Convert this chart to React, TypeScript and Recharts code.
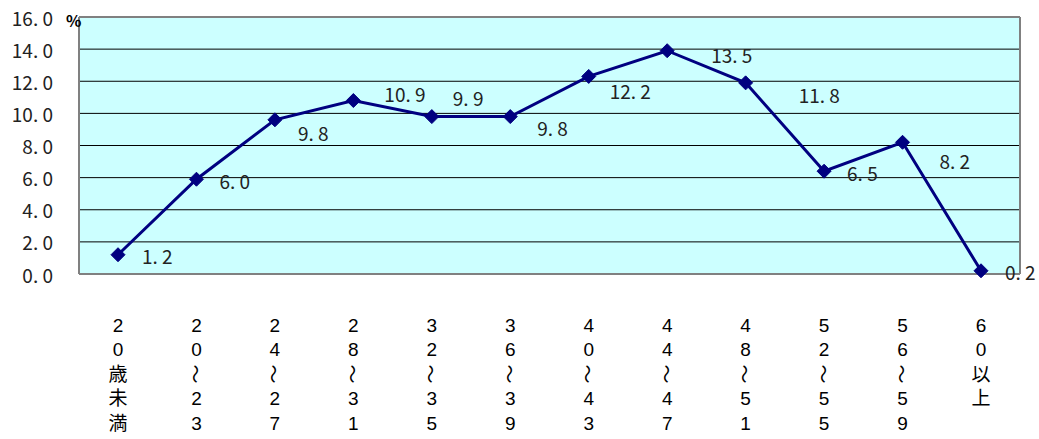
import React from "react";
import {
  LineChart,
  Line,
  XAxis,
  YAxis,
  CartesianGrid,
  ReferenceLine,
  LabelList,
} from "recharts";

const categories = [
  "20歳未満",
  "20～23",
  "24～27",
  "28～31",
  "32～35",
  "36～39",
  "40～43",
  "44～47",
  "48～51",
  "52～55",
  "56～59",
  "60以上",
];
const shares = [1.2, 5.9, 9.6, 10.8, 9.8, 9.8, 12.3, 13.9, 11.9, 6.4, 8.2, 0.2];
const shareLabels = ["1.2", "6.0", "9.8", "10.9", "9.9", "9.8", "12.2", "13.5", "11.8", "6.5", "8.2", "0.2"];
const yTicks = [0, 2, 4, 6, 8, 10, 12, 14, 16];

// label offsets from the point (x to left edge, y to centre)
const LABEL_DX = [24, 23, 23, 31, 21, 27, 21, 44, 53, 23, 37, 24];
const LABEL_DY = [1, 1, 13, -7, -19, 11, 14, 4, 12, 1, 18, 1];

const data = categories.map((name, i) => ({ name, value: shares[i], label: shareLabels[i] }));

const GOTHIC = '"Noto Sans CJK JP", "DejaVu Sans", sans-serif';
const NAVY = "#000080";
const BORDER = "#808080";

const fmt = (v: number) => v.toFixed(1).replace(".", ". ");

function YTick({ x, y, payload }: any) {
  return (
    <text
      x={x - 18}
      y={y}
      dominantBaseline="central"
      textAnchor="end"
      fontFamily={GOTHIC}
      fontSize={19}
      fill="#222"
    >
      {fmt(payload.value)}
    </text>
  );
}

function XTick({ x, y, payload }: any) {
  const chars = Array.from(String(payload.value));
  return (
    <g>
      {chars.map((c, i) => {
        const cy = y + 43 + i * 24.5;
        if (c === "～") {
          return (
            <text
              key={i}
              x={x}
              y={cy}
              textAnchor="middle"
              dominantBaseline="central"
              fontFamily={GOTHIC}
              fontSize={19}
              fill="#000"
              transform={`rotate(90 ${x} ${cy})`}
            >
              〜
            </text>
          );
        }
        return (
          <text
            key={i}
            x={x}
            y={cy}
            textAnchor="middle"
            dominantBaseline="central"
            fontFamily='"Liberation Sans", "Noto Sans CJK JP", sans-serif'
            fontSize={19}
            fill="#000"
          >
            {c}
          </text>
        );
      })}
    </g>
  );
}

function Diamond({ cx, cy }: any) {
  if (cx == null || cy == null) return null;
  const r = 7;
  return (
    <path
      d={`M${cx},${cy - r}L${cx + r},${cy}L${cx},${cy + r}L${cx - r},${cy}Z`}
      fill={NAVY}
      stroke={NAVY}
    />
  );
}

function PointLabel({ x, y, index }: any) {
  return (
    <text
      x={x + LABEL_DX[index]}
      y={y + LABEL_DY[index]}
      dominantBaseline="central"
      fontFamily={GOTHIC}
      fontSize={19}
      fill="#222"
    >
      {fmt(Number(shareLabels[index]))}
    </text>
  );
}

export default function App() {
  return (
    <div style={{ position: "absolute", left: 0, top: 0, background: "#fff" }}>
      <div style={{ position: "relative", width: 1039, height: 439 }}>
        <LineChart
          width={1039}
          height={439}
          data={data}
          margin={{ top: 17, right: 0, bottom: 0, left: 0 }}
        >
          <CartesianGrid
            vertical={false}
            stroke="#000"
            fill="#CCFFFF"
            fillOpacity={1}
          />
          <XAxis
            dataKey="name"
            interval={0}
            padding={{ left: 39, right: 39 }}
            height={165}
            tickLine={false}
            axisLine={{ stroke: BORDER, strokeWidth: 2 }}
            tick={<XTick />}
          />
          <YAxis
            domain={[0, 16]}
            ticks={yTicks}
            width={79}
            tickLine={false}
            axisLine={{ stroke: BORDER, strokeWidth: 2 }}
            tick={<YTick />}
          />
          <YAxis
            yAxisId="right"
            orientation="right"
            domain={[0, 16]}
            width={19}
            tick={false}
            tickLine={false}
            axisLine={{ stroke: BORDER, strokeWidth: 2 }}
          />
          <ReferenceLine y={16} stroke={BORDER} strokeWidth={2} />
          <Line
            dataKey="value"
            stroke={NAVY}
            strokeWidth={3}
            dot={<Diamond />}
            activeDot={false}
            isAnimationActive={false}
          >
            <LabelList dataKey="label" content={<PointLabel />} />
          </Line>
        </LineChart>
        <div
          style={{
            position: "absolute",
            left: 66,
            top: 8,
            fontFamily: GOTHIC,
            fontWeight: 700,
            fontSize: 16,
            color: "#000",
          }}
        >
          %
        </div>
      </div>
    </div>
  );
}
